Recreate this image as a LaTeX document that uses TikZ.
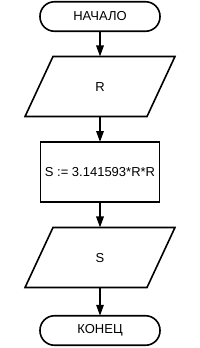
\documentclass[tikz,border=0pt]{standalone}
\usepackage{fontspec}
\setmainfont{Liberation Sans}
\usetikzlibrary{arrows.meta,shapes.geometric}

\begin{document}
\begin{tikzpicture}[x=1bp, y=-1bp, line width=1.6bp,
  every node/.style={font=\fontsize{13bp}{15bp}\selectfont, outer sep=0pt, inner sep=2bp},
  term/.style={draw, rectangle, rounded corners=14.5bp, minimum width=120bp, minimum height=29.5bp},
  io/.style={draw, trapezium, trapezium left angle=65, trapezium right angle=115,
    inner sep=0pt, text width=94bp, align=center, text height=34.5bp, text depth=25.5bp},
  proc/.style={draw, rectangle, minimum width=119bp, minimum height=60bp},
  flow/.style={-{Triangle[length=11bp, width=7.5bp]}}]
  \useasboundingbox (0,0) rectangle (200,348);
  \node[term] (start) at (100,16.5) {НАЧАЛО};
  \node[io] (inR) at (100,86.5) {R};
  \node[proc] (calc) at (100,172) {S := 3.141593*R*R};
  \node[io] (outS) at (100,257.5) {S};
  \node[term] (stop) at (100,330.5) {КОНЕЦ};
  \foreach \a/\b in {start/inR, inR/calc, calc/outS, outS/stop}
    \draw[flow] (\a) -- (\b);
\end{tikzpicture}
\end{document}
